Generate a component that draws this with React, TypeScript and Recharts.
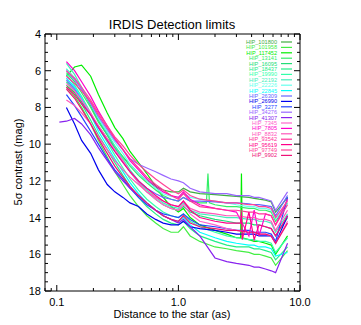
import { Line, LineChart, ReferenceArea, XAxis, YAxis } from "recharts";

const N = null;

// separations (arcsec) shared by all curves; nulls skip a column
const SEP = [0.105, 0.12, 0.14, 0.16, 0.19, 0.22, 0.26, 0.3, 0.35, 0.4, 0.47, 0.55, 0.65, 0.75, 0.87, 1.0, 1.1, 1.25, 1.5,
  1.7, 1.75, 1.8, 2.0, 2.5, 3.0, 3.25, 3.3, 3.35, 3.8, 4.2, 4.6, 5.2, 5.8, 6.3, 7.9];

const HIP_101800 = [N, 6.8, 7.2, 7.7, 8.4, 9.0, 9.7, 10.2, 10.7, 11.1, 11.6, 12.0, 12.3, 12.5, 12.6, 12.6, 12.4, 12.6, 12.7,
  N, N, N, 12.75, 12.8, 12.85, N, N, N, 12.9, 12.95, 13.0, 13.05, 13.15, 13.7, 12.9];
const HIP_101958 = [N, 6.9, 7.4, 8.0, 8.9, 9.8, 10.7, 11.5, 12.2, 12.8, 13.4, 13.9, 14.3, 14.6, 14.8, 14.8, 14.5, 15.0, 15.3,
  N, N, N, 15.6, 15.7, 15.8, N, N, N, 15.9, 16.0, 16.0, 16.1, 16.2, 16.6, 15.8];
const HIP_117452 = [N, 6.3, 5.8, 5.7, 6.3, 7.3, 8.3, 9.1, 9.7, 10.4, 11.0, 11.6, 12.3, 12.9, 13.4, 13.7, 13.5, 14.0, 14.4,
  N, N, N, 14.7, 14.9, 15.1, 15.1, 11.6, 15.1, 15.2, 15.3, 15.3, 15.4, 15.5, 16.0, 15.0];
const HIP_13141 = [N, 6.1, 6.6, 7.2, 8.0, 8.8, 9.5, 10.1, 10.7, 11.2, 11.7, 12.1, 12.5, 12.8, 13.0, 13.1, 12.9, 13.1, 13.2,
  13.2, 11.6, 13.2, 13.3, 13.4, 13.4, N, N, N, 13.5, 13.5, 13.6, 13.6, 13.7, 14.2, 13.2];
const HIP_16095 = [N, 5.9, 6.4, 7.0, 7.9, 8.7, 9.5, 10.2, 10.9, 11.5, 12.1, 12.6, 13.0, 13.3, 13.5, 13.6, 13.4, 13.7, 13.9,
  N, N, N, 14.1, 14.2, 14.3, N, N, N, 14.3, 14.4, 14.4, 14.5, 14.6, 15.0, 14.0];
const HIP_18437 = [N, 6.6, 7.1, 7.8, 8.7, 9.5, 10.3, 11.0, 11.7, 12.3, 12.9, 13.4, 13.8, 14.1, 14.3, 14.4, 14.2, 14.6, 15.0,
  N, N, N, 15.3, 15.5, 15.6, N, N, N, 15.6, 15.7, 15.7, 15.8, 15.9, 16.3, 15.6];
const HIP_19990 = [N, 6.2, 6.8, 7.4, 8.3, 9.1, 9.9, 10.6, 11.3, 11.9, 12.5, 13.0, 13.4, 13.7, 13.9, 14.0, 13.8, 14.2, 14.5,
  N, N, N, 14.8, 15.0, 15.1, N, N, N, 15.2, 15.2, 15.3, 15.3, 15.4, 15.9, 15.1];
const HIP_22192 = [N, 5.6, 6.2, 6.9, 7.8, 8.6, 9.4, 10.1, 10.8, 11.4, 12.0, 12.5, 12.9, 13.2, 13.4, 13.5, 13.2, 13.6, 13.8,
  N, N, N, 13.9, 14.0, 14.0, N, N, N, 14.1, 14.1, 14.2, 14.2, 14.3, 14.8, 13.8];
const HIP_22226 = [N, 5.9, 6.4, 7.0, 7.8, 8.6, 9.3, 9.9, 10.5, 11.1, 11.6, 12.0, 12.4, 12.7, 12.85, 12.9, 12.7, 12.9, 13.0,
  N, N, N, 13.1, 13.2, 13.3, N, N, N, 13.4, 13.4, 13.5, 13.5, 13.6, 14.1, 13.2];
const HIP_22845 = [N, 6.4, 6.9, 7.5, 8.4, 9.3, 10.1, 10.8, 11.5, 12.1, 12.7, 13.2, 13.6, 13.9, 14.1, 14.2, 14.0, 14.4, 14.8,
  N, N, N, 15.1, 15.3, 15.4, N, N, N, 15.5, 15.5, 15.6, 15.6, 15.7, 16.1, 15.9];
const HIP_26309 = [N, 6.5, 7.0, 7.6, 8.4, 9.1, 9.8, 10.4, 11.0, 11.5, 12.0, 12.4, 12.7, 12.9, 13.0, 13.1, 12.9, 13.1, 13.1,
  N, N, N, 13.15, 13.2, 13.2, N, N, N, 13.25, 13.3, 13.3, 13.35, 13.4, 13.9, 12.8];
const HIP_26990 = [N, 8.0, 8.9, 9.8, 10.5, 11.4, 12.2, 12.6, 12.9, 13.2, 13.4, 13.8, 14.1, 14.3, 14.4, 14.4, 14.2, 14.5, 14.6,
  N, N, N, 14.7, 14.8, 14.9, N, N, N, 14.9, 14.9, 15.0, 15.0, 15.0, 15.4, 13.9];
const HIP_3277 = [N, 7.3, 7.9, 8.5, 9.3, 10.0, 10.8, 11.4, 11.9, 12.4, 12.9, 13.3, 13.6, 13.8, 13.9, 14.0, 13.8, 14.1, 14.4,
  N, N, N, 14.5, 14.6, 14.7, N, N, N, 14.7, 14.8, 14.8, 14.8, 14.9, 15.3, 12.9];
const HIP_34276 = [N, 6.0, 6.5, 7.0, 7.8, 8.5, 9.2, 9.8, 10.3, 10.8, 11.1, 11.3, 11.5, 11.7, 11.9, 12.0, 12.1, 12.4, 12.6,
  N, N, N, 12.7, 12.7, 12.8, N, N, N, 12.8, 12.9, 12.9, 13.0, 13.1, 13.6, 12.6];
const HIP_41307 = [8.8, 8.75, 8.6, 8.9, 9.5, 10.2, 10.9, 11.5, 12.0, 12.4, 12.8, 13.2, 13.6, 13.9, 14.1, 14.3, 14.1, 14.5, 15.0,
  N, N, N, 16.2, 16.4, 16.5, N, N, N, 16.6, 16.7, 16.7, 16.8, 16.9, 17.0, 15.4];
const HIP_7345 = [N, 6.7, 7.1, 7.6, 8.3, 9.0, 9.7, 10.3, 10.9, 11.5, 12.1, 12.6, 13.0, 13.3, 13.5, 13.6, 13.3, 13.8, 14.2,
  N, N, N, 14.4, 14.6, 14.7, N, N, N, 14.8, 14.8, 14.9, 14.9, 15.0, 15.4, 14.2];
const HIP_7805 = [N, 5.5, 6.0, 6.6, 7.4, 8.2, 9.0, 9.7, 10.3, 10.9, 11.4, 11.9, 12.3, 12.6, 12.8, 12.9, 12.6, 13.0, 13.3,
  N, N, N, 13.5, 13.6, 13.7, N, N, N, 15.0, 13.6, 15.0, 13.8, 13.9, 14.4, 13.0];
const HIP_8832 = [N, 7.6, 7.9, 8.3, 8.9, 9.6, 10.3, 10.9, 11.4, 11.8, 12.2, 12.6, 12.9, 13.1, 13.3, 13.4, 13.1, 13.5, 13.7,
  N, N, N, 13.8, 13.9, 13.9, N, N, N, 14.0, 14.0, 14.1, 14.1, 14.2, 14.7, 13.6];
const HIP_93542 = [N, 6.3, 6.7, 7.1, 7.7, 8.4, 9.1, 9.7, 10.3, 10.8, 11.3, 11.8, 12.2, 12.5, 12.8, 13.0, 12.7, 13.1, 13.4,
  N, N, N, 13.5, 13.6, 13.6, N, N, N, 13.7, 13.7, 13.8, 13.8, 13.9, 14.4, 13.3];
const HIP_95619 = [N, 6.9, 7.3, 7.8, 8.4, 9.1, 9.8, 10.4, 11.0, 11.5, 12.0, 12.4, 12.8, 13.1, 13.3, 13.4, 13.1, 13.6, 14.0,
  N, N, N, 14.2, 14.3, 14.3, 14.3, 13.7, 15.2, 13.7, 15.2, 14.4, 14.5, 14.6, 15.0, 13.9];
const HIP_97749 = [N, 6.0, 6.4, 6.9, 7.6, 8.3, 9.0, 9.6, 10.1, 10.6, 11.1, 11.5, 11.9, 12.2, 12.5, 12.7, 12.5, 12.8, 13.0,
  N, N, N, 13.1, 13.2, 13.2, N, N, N, 13.3, 13.3, 13.4, 13.4, 13.5, 14.0, 13.1];
const HIP_9902 = [N, 7.0, 7.5, 8.1, 8.9, 9.7, 10.5, 11.2, 11.8, 12.3, 12.8, 13.2, 13.6, 13.9, 14.1, 14.2, 13.9, 14.3, 14.5,
  N, N, N, 14.6, 14.7, 14.7, N, N, N, 14.8, 14.8, 14.9, 14.9, 15.0, 15.4, 14.3];

const NAMES = ["HIP_101800", "HIP_101958", "HIP_117452", "HIP_13141", "HIP_16095", "HIP_18437", "HIP_19990",
  "HIP_22192", "HIP_22226", "HIP_22845", "HIP_26309", "HIP_26990", "HIP_3277", "HIP_34276", "HIP_41307",
  "HIP_7345", "HIP_7805", "HIP_8832", "HIP_93542", "HIP_95619", "HIP_97749", "HIP_9902"];
const VALUES = [HIP_101800, HIP_101958, HIP_117452, HIP_13141, HIP_16095, HIP_18437, HIP_19990,
  HIP_22192, HIP_22226, HIP_22845, HIP_26309, HIP_26990, HIP_3277, HIP_34276, HIP_41307,
  HIP_7345, HIP_7805, HIP_8832, HIP_93542, HIP_95619, HIP_97749, HIP_9902];
const COLORS = ["#3fae3f", "#44ee44", "#00ee00", "#33ee66", "#22dd77", "#22ee88", "#33ffaa",
  "#44eebb", "#66ffee", "#00ffff", "#6666ff", "#0000ee", "#2244ff", "#9966ff", "#8822ee",
  "#ff66cc", "#ff00cc", "#ff55bb", "#ff3399", "#ff0088", "#ff4499", "#ee1177"];

const X_MAJOR = [0.1, 1, 10];
const X_LABELS = ["0.1", "1.0", "10.0"];
const X_TICKS = [0.08, 0.09, 0.1, 0.2, 0.3, 0.4, 0.5, 0.6, 0.7, 0.8, 0.9, 1, 2, 3, 4, 5, 6, 7, 8, 9, 10];
const Y_MAJOR = [4, 6, 8, 10, 12, 14, 16, 18];
const Y_TICKS = [4, 4.5, 5, 5.5, 6, 6.5, 7, 7.5, 8, 8.5, 9, 9.5, 10, 10.5, 11, 11.5, 12, 12.5, 13, 13.5,
  14, 14.5, 15, 15.5, 16, 16.5, 17, 17.5, 18];

const rows = SEP.map((sep, i) => {
  const r: Record<string, number | null> = { sep };
  NAMES.forEach((n, k) => (r[n] = VALUES[k][i]));
  return r;
});

const FONT = '"Liberation Sans", Arial, sans-serif';

function BottomTick({ x, y, payload }: any) {
  const i = X_MAJOR.indexOf(payload.value);
  const len = i >= 0 ? 6 : 3;
  return (
    <g>
      <path d={`M${x},${y}v${-len}`} stroke="#000" strokeWidth={1} fill="none" />
      {i >= 0 && (
        <text x={x} y={y + 15} textAnchor="middle" fontSize={11} fontFamily={FONT} fill="#000">{X_LABELS[i]}</text>
      )}
    </g>
  );
}

function TopTick({ x, y, payload }: any) {
  const len = X_MAJOR.includes(payload.value) ? 6 : 3;
  return <path d={`M${x},${y}v${len}`} stroke="#000" strokeWidth={1} fill="none" />;
}

function LeftTick({ x, y, payload }: any) {
  const major = Y_MAJOR.includes(payload.value);
  return (
    <g>
      <path d={`M${x},${y}h${major ? 6 : 3}`} stroke="#000" strokeWidth={1} fill="none" />
      {major && (
        <text x={x - 4} y={y + 4} textAnchor="end" fontSize={11} fontFamily={FONT} fill="#000">{payload.value}</text>
      )}
    </g>
  );
}

function RightTick({ x, y, payload }: any) {
  const len = Y_MAJOR.includes(payload.value) ? 6 : 3;
  return <path d={`M${x},${y}h${-len}`} stroke="#000" strokeWidth={1} fill="none" />;
}

export default function App() {
  return (
    <div style={{ position: "absolute", left: 0, top: 0, width: 361, height: 325, background: "#fff", fontFamily: FONT }}>
      <LineChart width={361} height={325} data={rows} margin={{ top: 33, right: 60, bottom: 33, left: 0 }}>
        <XAxis dataKey="sep" type="number" scale="log" domain={[0.08, 10]} allowDataOverflow ticks={X_TICKS}
          interval={0} height={1} tickSize={0} tickMargin={0} tickLine={false} axisLine={false}
          tick={(p: any) => <BottomTick {...p} />} />
        <XAxis xAxisId="top" orientation="top" dataKey="sep" type="number" scale="log" domain={[0.08, 10]} allowDataOverflow
          ticks={X_TICKS} interval={0} height={1} tickSize={0} tickMargin={0} tickLine={false} axisLine={false}
          tick={(p: any) => <TopTick {...p} />} />
        <YAxis type="number" reversed domain={[4, 18]} allowDataOverflow ticks={Y_TICKS} interval={0} width={45}
          tickSize={0} tickMargin={0} tickLine={false} axisLine={false} tick={(p: any) => <LeftTick {...p} />} />
        <YAxis yAxisId="right" orientation="right" type="number" reversed domain={[4, 18]} allowDataOverflow ticks={Y_TICKS}
          interval={0} width={1} tickSize={0} tickMargin={0} tickLine={false} axisLine={false}
          tick={(p: any) => <RightTick {...p} />} />
        {NAMES.map((n, k) => (
          <Line key={n} dataKey={n} stroke={COLORS[k]} strokeWidth={1.2} dot={false} connectNulls isAnimationActive={false} />
        ))}
        <ReferenceArea x1={0.08} x2={10} y1={4} y2={18} fill="none" fillOpacity={0} stroke="#000" strokeWidth={1}
          ifOverflow="visible" />
      </LineChart>
      <svg width={361} height={325} style={{ position: "absolute", left: 0, top: 0, pointerEvents: "none" }}>
        <text x={172} y={29} textAnchor="middle" fontSize={13} fontFamily={FONT}>IRDIS Detection limits</text>
        <text x={172} y={318} textAnchor="middle" fontSize={11} fontFamily={FONT}>Distance to the star (as)</text>
        <text transform="translate(22,162) rotate(-90)" textAnchor="middle" fontSize={11} fontFamily={FONT}>5σ contrast (mag)</text>
        {NAMES.map((n, k) => (
          <g key={n}>
            <text x={277} y={44 + k * 5.4} textAnchor="end" fontSize={5.6} fontFamily={FONT} fill={COLORS[k]}>{n}</text>
            <line x1={281} x2={292} y1={42 + k * 5.4} y2={42 + k * 5.4} stroke={COLORS[k]} strokeWidth={1.2} />
          </g>
        ))}
      </svg>
    </div>
  );
}
